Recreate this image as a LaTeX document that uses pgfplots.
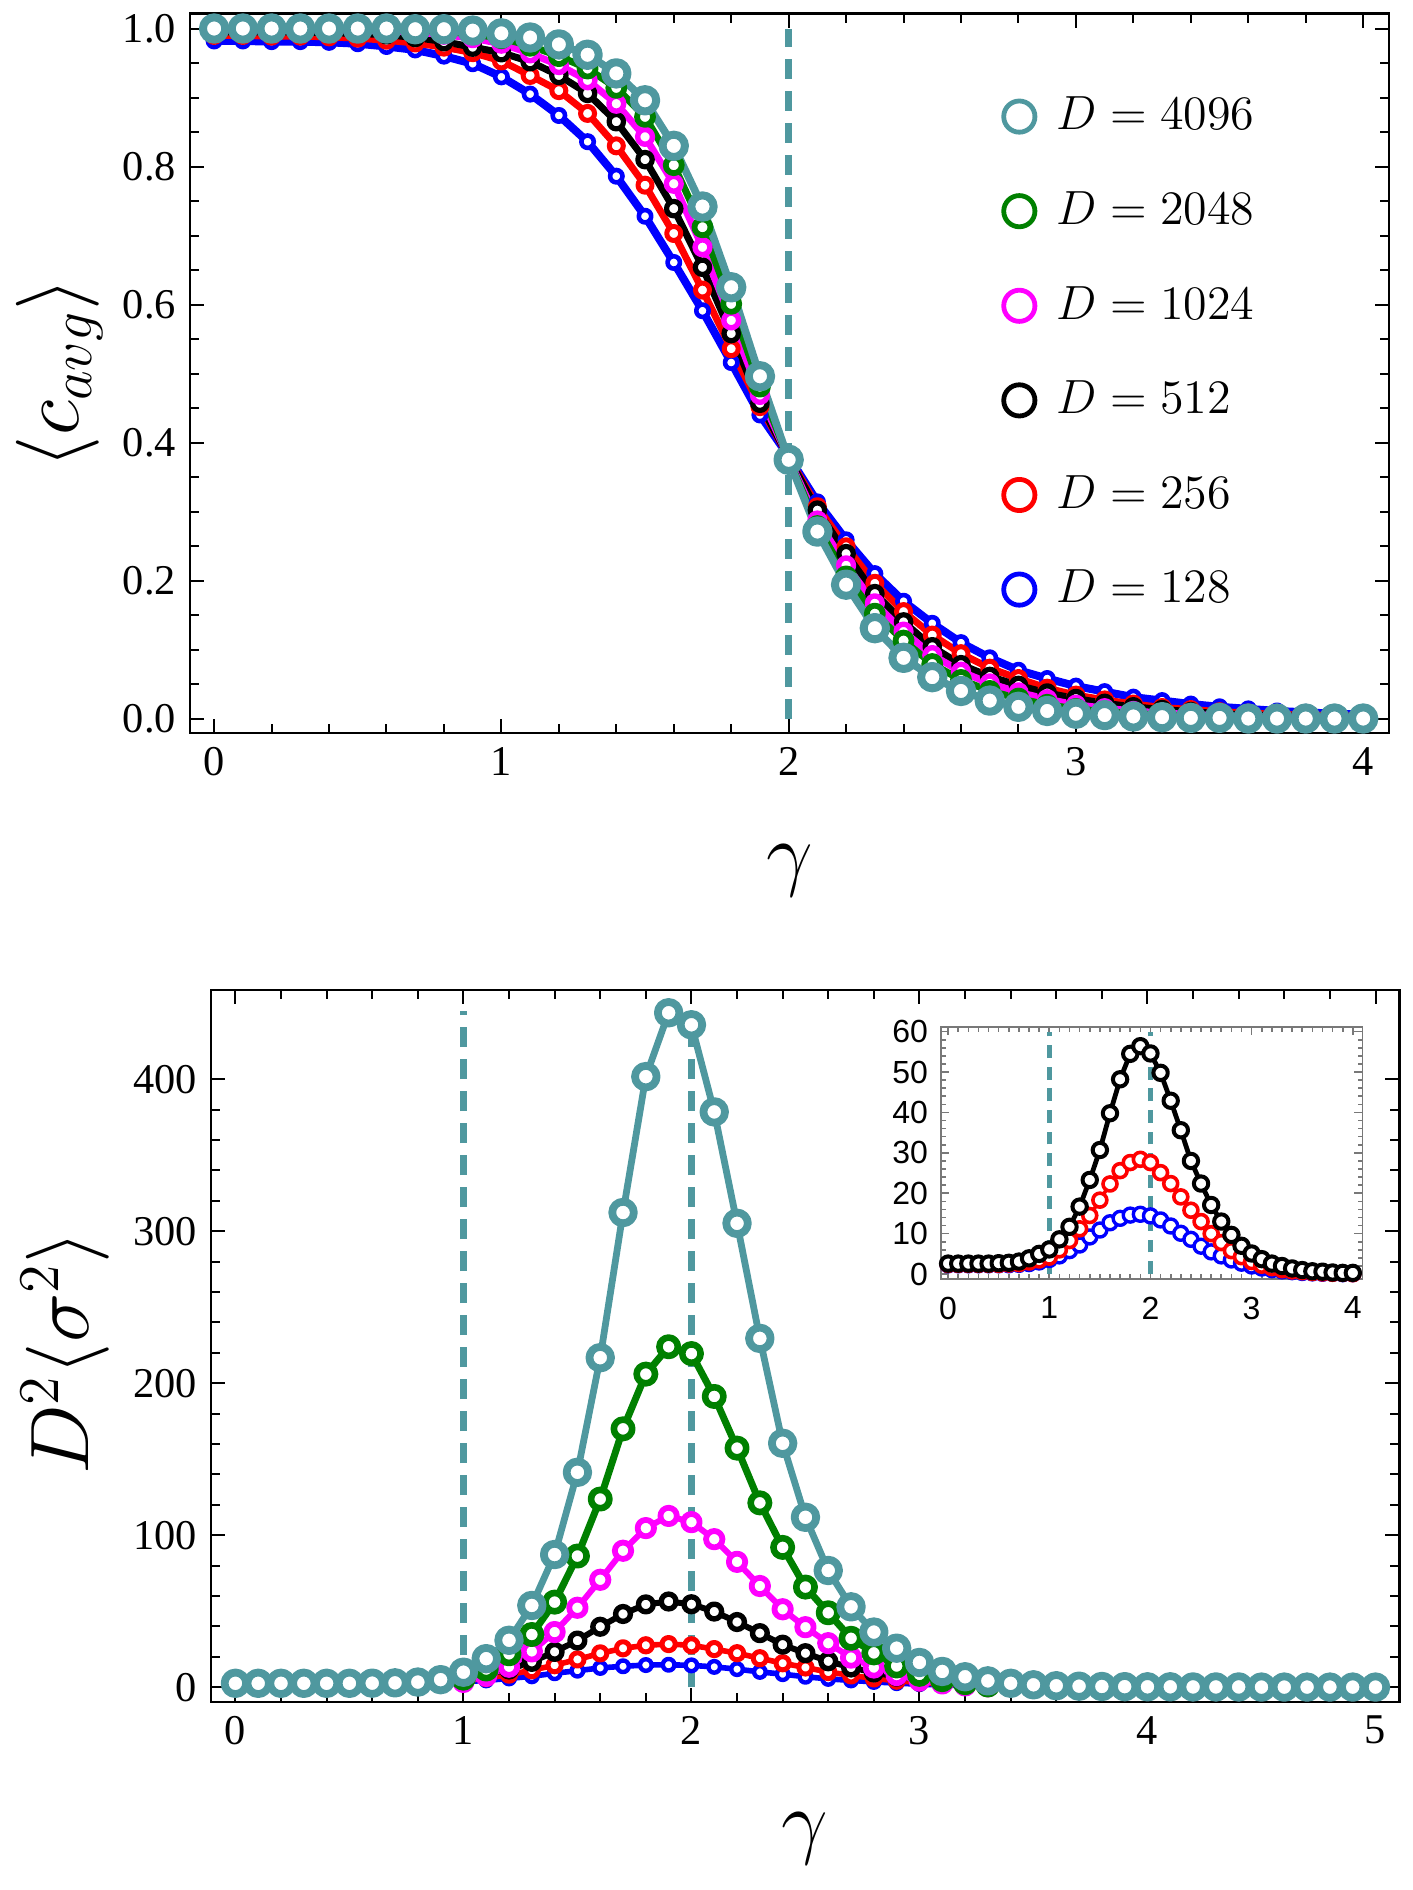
\documentclass[border=0pt]{standalone}
\usepackage[no-math]{fontspec}
\setmainfont{Liberation Serif}
\newfontfamily\insetfont{Liberation Sans}
\usepackage{pgfplots}
\usepackage{pgfplotstable}
\pgfplotsset{compat=1.18}

\definecolor{c4096}{RGB}{79,152,159}
\definecolor{c2048}{RGB}{0,128,0}
\definecolor{c1024}{RGB}{255,0,255}
\definecolor{insetgray}{RGB}{120,120,120}

% <c_avg> vs gamma
\pgfplotstableread{
x b r k m g t
0.0 0.982 0.990 0.995 0.998 0.999 1.000
0.1 0.982 0.990 0.995 0.998 0.999 1.000
0.2 0.981 0.989 0.995 0.998 0.999 1.000
0.3 0.981 0.989 0.995 0.998 0.999 1.000
0.4 0.980 0.988 0.994 0.998 0.999 1.000
0.5 0.978 0.986 0.993 0.998 0.999 1.000
0.6 0.974 0.983 0.991 0.997 0.999 1.000
0.7 0.969 0.979 0.987 0.995 0.998 0.999
0.8 0.960 0.973 0.981 0.991 0.996 0.999
0.9 0.949 0.965 0.973 0.986 0.992 0.997
1.0 0.930 0.953 0.965 0.978 0.986 0.993
1.1 0.905 0.932 0.952 0.964 0.975 0.987
1.2 0.874 0.910 0.932 0.947 0.960 0.977
1.3 0.836 0.877 0.906 0.925 0.942 0.962
1.4 0.786 0.830 0.865 0.891 0.914 0.935
1.5 0.728 0.773 0.810 0.843 0.872 0.896
1.6 0.661 0.703 0.739 0.775 0.802 0.830
1.7 0.591 0.621 0.654 0.683 0.712 0.742
1.8 0.516 0.536 0.558 0.577 0.601 0.625
1.9 0.440 0.452 0.457 0.469 0.481 0.496
2.0 0.380 0.379 0.378 0.377 0.376 0.375
2.1 0.314 0.307 0.302 0.287 0.279 0.271
2.2 0.259 0.249 0.239 0.222 0.206 0.194
2.3 0.210 0.196 0.181 0.167 0.152 0.131
2.4 0.170 0.155 0.140 0.126 0.113 0.088
2.5 0.138 0.121 0.104 0.092 0.079 0.060
2.6 0.110 0.094 0.078 0.068 0.056 0.040
2.7 0.088 0.073 0.061 0.051 0.040 0.026
2.8 0.070 0.058 0.048 0.038 0.029 0.017
2.9 0.058 0.044 0.037 0.028 0.020 0.011
3.0 0.047 0.034 0.029 0.020 0.014 0.007
3.1 0.039 0.027 0.022 0.015 0.010 0.005
3.2 0.031 0.021 0.017 0.011 0.007 0.003
3.3 0.026 0.016 0.013 0.008 0.005 0.002
3.4 0.021 0.013 0.010 0.006 0.003 0.001
3.5 0.017 0.010 0.007 0.004 0.002 0.001
3.6 0.014 0.008 0.005 0.003 0.002 0.000
3.7 0.011 0.006 0.004 0.002 0.001 0.000
3.8 0.009 0.005 0.003 0.002 0.001 0.000
3.9 0.007 0.004 0.002 0.001 0.001 0.000
4.0 0.006 0.003 0.002 0.001 0.000 0.000
}\cavg

% D^2 <sigma^2>, D=4096
\pgfplotstableread{
x t
0.0 2.6
0.1 2.6
0.2 2.6
0.3 2.6
0.4 2.6
0.5 2.6
0.6 2.7
0.7 2.9
0.8 3.4
0.9 5.0
1.0 9.9
1.1 18.8
1.2 30.9
1.3 53.8
1.4 87.3
1.5 141.4
1.6 216.8
1.7 312.3
1.8 401.7
1.9 443.7
2.0 435.8
2.1 378.5
2.2 305.2
2.3 229.5
2.4 160.5
2.5 111.8
2.6 76.8
2.7 52.9
2.8 36.3
2.9 25.7
3.0 16.3
3.1 10.4
3.2 6.9
3.3 4.2
3.4 2.6
3.5 1.6
3.6 1.0
3.7 0.7
3.8 0.5
3.9 0.4
4.0 0.3
4.1 0.3
4.2 0.2
4.3 0.2
4.4 0.2
4.5 0.1
4.6 0.1
4.7 0.1
4.8 0.1
4.9 0.1
5.0 0.1
}\sigt

% D=2048, D=1024
\pgfplotstableread{
x g m
1.0 6.0 3.5
1.1 12.0 7.5
1.2 22.0 13.5
1.3 34.7 23.6
1.4 56.0 36.3
1.5 86.3 52.3
1.6 123.8 70.7
1.7 170.0 89.8
1.8 206.0 104.7
1.9 224.0 112.7
2.0 219.5 108.6
2.1 191.3 97.4
2.2 157.3 82.5
2.3 121.3 66.6
2.4 92.0 51.3
2.5 65.9 39.5
2.6 49.0 29.0
2.7 32.2 19.5
2.8 22.6 13.0
2.9 14.0 8.0
3.0 8.5 4.5
3.1 5.0 2.5
3.2 3.0 1.2
3.3 1.5 0.6
}\siggm

% D=512, 256, 128 (inset + main)
\pgfplotstableread{
x b r k
0.0 2.3 2.4 2.6
0.1 2.3 2.4 2.6
0.2 2.3 2.4 2.6
0.3 2.3 2.4 2.6
0.4 2.3 2.4 2.6
0.5 2.3 2.4 2.7
0.6 2.3 2.5 2.8
0.7 2.4 2.6 3.1
0.8 2.6 3.0 3.9
0.9 3.0 3.5 5.0
1.0 3.6 4.2 6.1
1.1 4.5 6.0 8.6
1.2 5.8 8.3 11.7
1.3 7.2 11.2 16.7
1.4 9.2 14.5 23.3
1.5 10.9 18.3 30.7
1.6 12.7 22.3 39.8
1.7 13.8 25.6 48.2
1.8 14.6 27.6 54.5
1.9 14.8 28.4 56.4
2.0 14.4 27.6 54.6
2.1 13.4 25.1 49.8
2.2 11.9 22.4 42.9
2.3 10.1 19.1 35.6
2.4 8.6 15.8 28.0
2.5 6.9 13.0 22.4
2.6 5.5 10.0 17.1
2.7 4.5 7.8 13.0
2.8 3.5 5.8 9.7
2.9 2.7 4.3 7.0
3.0 2.0 3.1 5.1
3.1 1.5 2.2 3.7
3.2 1.1 1.6 2.6
3.3 0.8 1.1 2.0
3.4 0.6 0.8 1.4
3.5 0.4 0.6 1.0
3.6 0.3 0.4 0.7
3.7 0.2 0.3 0.6
3.8 0.2 0.2 0.4
3.9 0.1 0.2 0.3
4.0 0.1 0.1 0.3
}\sigs

\pgfplotsset{
  mma/.style={
    scale only axis, anchor=south west,
    axis line style={line width=0.65pt},
    tick style={line width=0.5pt, black},
    major tick length=3.6pt, minor tick length=2.3pt,
    /pgf/number format/assume math mode=true,
    tick label style={font=\fontsize{10.6}{12}\selectfont},
    label style={font=\fontsize{19.5}{22}\selectfont, inner sep=0pt},
    xlabel style={at={(rel axis cs:0.5,-0.192)}, anchor=center},
  },
  ser/.style n args={4}{color=#1, line width=#2, mark=*, mark size=#3,
    mark options={fill=white, draw=#1, line width=#4, solid}, line join=round},
  vdash/.style={draw=c4096, line width=1.6pt, dash pattern=on 5pt off 3pt,
    mark=none, forget plot},
}

\begin{document}
\begin{tikzpicture}
\useasboundingbox (0,0) rectangle (353pt,472.5pt);

\begin{axis}[mma,
  at={(47.5pt,289.25pt)}, width=299.75pt, height=179.85pt,
  xmin=-0.084, xmax=4.09, ymin=-0.0209, ymax=1.0217,
  xtick={0,1,2,3,4}, minor x tick num=4,
  ytick={0,0.2,0.4,0.6,0.8,1.0}, minor y tick num=3,
  y tick label style={/pgf/number format/.cd, fixed, fixed zerofill, precision=1, /tikz/.cd},
  xlabel={$\gamma$}, ylabel={$\langle c_{avg}\rangle$},
  ylabel style={at={(rel axis cs:-0.109,0.5)}, anchor=center},
  reverse legend, legend cell align=left,
  legend image code/.code={\draw[#1, mark size=3.9pt, mark options={fill=white, line width=1.2pt, solid}] plot[only marks] coordinates {(0cm,0cm)};},
  legend style={draw=none, fill=none, at={(rel axis cs:0.678,0.896)}, anchor=north west,
    font=\fontsize{12.8}{15.2}\selectfont, row sep=9.95pt, inner sep=0pt,
    /tikz/every odd column/.append style={column sep=3.5pt}},
]
\addplot[vdash] coordinates {(2,0) (2,1)};
\addplot[ser={blue}{2pt}{1.55pt}{1.15pt}] table[x=x, y=b] {\cavg};
\addplot[ser={red}{1.75pt}{1.75pt}{1.25pt}] table[x=x, y=r] {\cavg};
\addplot[ser={black}{1.75pt}{1.8pt}{1.3pt}] table[x=x, y=k] {\cavg};
\addplot[ser={c1024}{1.75pt}{1.85pt}{1.35pt}] table[x=x, y=m] {\cavg};
\addplot[ser={c2048}{1.75pt}{2pt}{1.45pt}] table[x=x, y=g] {\cavg};
\addplot[ser={c4096}{1.9pt}{2.8pt}{2pt}] table[x=x, y=t] {\cavg};
\legend{$D=128$,$D=256$,$D=512$,$D=1024$,$D=2048$,$D=4096$}
\end{axis}

\begin{axis}[mma,
  at={(52.75pt,47pt)}, width=297.1pt, height=178pt,
  xmin=-0.107, xmax=5.105, ymin=-9.7, ymax=458.7,
  xtick={0,1,2,3,4,5}, minor x tick num=4,
  ytick={0,100,200,300,400}, minor y tick num=4,
  xlabel={$\gamma$}, ylabel={$D^2\langle\sigma^2\rangle$},
  ylabel style={at={(rel axis cs:-0.1226,0.49)}, anchor=center, font=\fontsize{20.5}{24}\selectfont},
]
\addplot[vdash] coordinates {(1,0) (1,445)};
\addplot[vdash] coordinates {(2,0) (2,445)};
\addplot[ser={blue}{1.4pt}{1.45pt}{1.1pt}, restrict x to domain=0.95:3.25] table[x=x, y=b] {\sigs};
\addplot[ser={red}{1.4pt}{1.65pt}{1.25pt}, restrict x to domain=0.95:3.25] table[x=x, y=r] {\sigs};
\addplot[ser={black}{1.5pt}{1.85pt}{1.35pt}, restrict x to domain=0.95:3.25] table[x=x, y=k] {\sigs};
\addplot[ser={c1024}{1.5pt}{2.05pt}{1.45pt}] table[x=x, y=m] {\siggm};
\addplot[ser={c2048}{1.75pt}{2.3pt}{1.65pt}] table[x=x, y=g] {\siggm};
\addplot[ser={c4096}{1.7pt}{2.7pt}{1.95pt}] table[x=x, y=t] {\sigt};
\end{axis}

\begin{axis}[scale only axis, anchor=south west,
  at={(235.2pt,152.8pt)}, width=105.4pt, height=63pt,
  xmin=-0.072, xmax=4.095, ymin=-1.16, ymax=61.2,
  axis line style={draw=insetgray, line width=0.4pt},
  tick style={draw=insetgray, line width=0.4pt},
  major tick length=2pt, minor tick length=1.2pt,
  xtick={0,1,2,3,4}, minor x tick num=9,
  ytick={0,10,20,30,40,50,60}, minor y tick num=4,
  /pgf/number format/assume math mode=true,
  tick label style={font=\insetfont\fontsize{8}{9}\selectfont},
  y tick label style={xshift=0.3pt},
  x tick label style={yshift=-1pt},
]
\addplot[vdash, line width=1.3pt, dash pattern=on 3.2pt off 2.2pt] coordinates {(1,0) (1,60)};
\addplot[vdash, line width=1.3pt, dash pattern=on 3.2pt off 2.2pt] coordinates {(2,0) (2,60)};
\addplot[ser={blue}{0.9pt}{1.75pt}{0.85pt}] table[x=x, y=b] {\sigs};
\addplot[ser={red}{0.9pt}{1.75pt}{0.9pt}] table[x=x, y=r] {\sigs};
\addplot[ser={black}{1.2pt}{1.8pt}{1pt}] table[x=x, y=k] {\sigs};
\end{axis}
\end{tikzpicture}
\end{document}
